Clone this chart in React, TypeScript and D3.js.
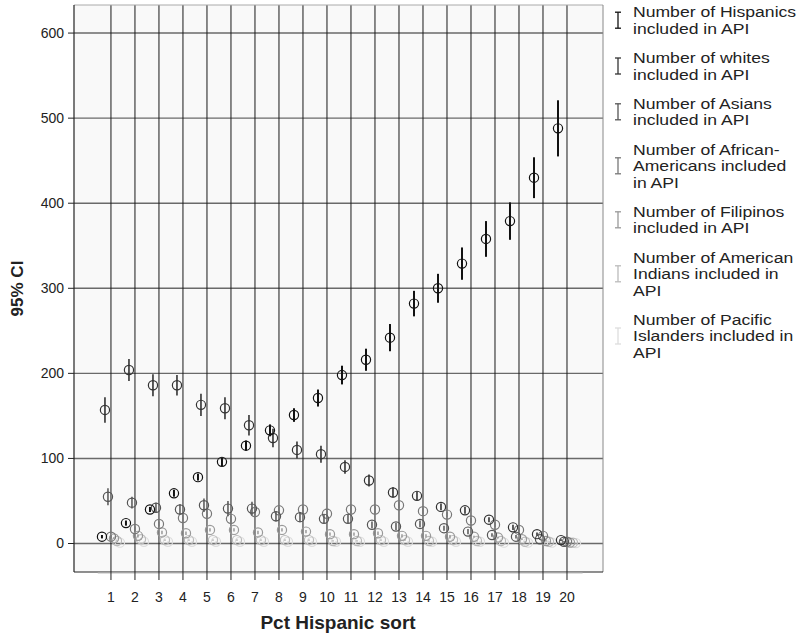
import * as d3 from 'd3';

// categories on the x axis
const categories = [1, 2, 3, 4, 5, 6, 7, 8, 9, 10, 11, 12, 13, 14, 15, 16, 17, 18, 19, 20];

// means and half-widths of the 95% CI for each group
const hispanics = [8, 24, 40, 59, 78, 96, 115, 133, 151, 171, 198, 216, 242, 282, 300, 329, 358, 379, 430, 488];
const hispanicsErr = [2, 3, 3, 4, 4, 5, 6, 7, 8, 10, 11, 13, 16, 15, 17, 19, 21, 22, 24, 33];
const whites = [157, 204, 186, 186, 163, 159, 139, 124, 110, 105, 90, 74, 60, 56, 43, 39, 28, 19, 11, 4];
const whitesErr = [15, 13, 13, 12, 13, 13, 12, 11, 10, 10, 8, 7, 6, 5, 4, 4, 3, 3, 2, 1];
const asians = [55, 48, 42, 40, 45, 41, 41, 32, 31, 29, 29, 22, 20, 23, 18, 14, 10, 8, 5, 2];
const asiansErr = [10, 7, 6, 6, 8, 9, 8, 6, 6, 5, 5, 4, 4, 4, 3, 3, 2, 2, 1, 1];
const africanAmericans = [8, 17, 23, 30, 35, 29, 37, 39, 40, 35, 40, 40, 45, 38, 34, 27, 22, 16, 9, 2];
const africanAmericansErr = [2, 3, 3, 4, 4, 4, 4, 4, 4, 4, 4, 4, 4, 4, 3, 3, 3, 2, 2, 1];
const filipinos = [6, 9, 13, 12, 16, 16, 13, 16, 14, 11, 11, 12, 9, 9, 8, 8, 7, 5, 3, 1];
const filipinosErr = [1, 2, 2, 2, 2, 2, 2, 2, 2, 2, 2, 2, 2, 2, 2, 1, 1, 1, 1, 0.5];
const americanIndians = [3, 5, 4, 4, 4, 4, 4, 4, 4, 3, 3, 4, 4, 3, 4, 3, 3, 2, 2, 1];
const americanIndiansErr = [1, 1, 1, 1, 1, 1, 1, 1, 1, 1, 1, 1, 1, 1, 1, 1, 1, 1, 0.5, 0.5];
const pacificIslanders = [1, 2, 2, 2, 2, 2, 2, 2, 2, 2, 2, 2, 2, 2, 2, 2, 1, 1, 1, 0.5];
const pacificIslandersErr = [0.5, 0.5, 0.5, 0.5, 0.5, 0.5, 0.5, 0.5, 0.5, 0.5, 0.5, 0.5, 0.5, 0.5, 0.5, 0.5, 0.5, 0.5, 0.5, 0.5];

const yTicks = [0, 100, 200, 300, 400, 500, 600];

const series = [
  { label: ['Number of Hispanics', 'included in API'], values: hispanics, err: hispanicsErr, color: '#111', width: 2 },
  { label: ['Number of whites', 'included in API'], values: whites, err: whitesErr, color: '#333', width: 1.6 },
  { label: ['Number of Asians', 'included in API'], values: asians, err: asiansErr, color: '#555', width: 1.5 },
  { label: ['Number of African-', 'Americans included', 'in API'], values: africanAmericans, err: africanAmericansErr, color: '#777', width: 1.5 },
  { label: ['Number of Filipinos', 'included in API'], values: filipinos, err: filipinosErr, color: '#999', width: 1.5 },
  { label: ['Number of American', 'Indians included in', 'API'], values: americanIndians, err: americanIndiansErr, color: '#bbb', width: 1.5 },
  { label: ['Number of Pacific', 'Islanders included in', 'API'], values: pacificIslanders, err: pacificIslandersErr, color: '#ddd', width: 1.5 },
];

const W = 803;
const H = 642;
const plot = { left: 74, right: 603, top: 5, bottom: 572 };
const font = '"Liberation Sans", Arial, Helvetica, sans-serif';

export default function App() {
  const x = d3.scaleLinear().domain([-0.54, 21.5]).range([plot.left, plot.right]);
  const y = d3.scaleLinear().domain([-33.5, 633]).range([plot.bottom, plot.top]);
  const offset = (j: number) => (j - 3) * 3;

  // legend layout
  const lineH = 16.4;
  let cursor = 12;
  const legendItems = series.map(s => {
    const top = cursor;
    cursor += s.label.length * lineH + 13;
    return { ...s, top };
  });

  return (
    <svg width={W} height={H} style={{ position: 'absolute', left: 0, top: 0, fontFamily: font }}>
      <rect x={0} y={0} width={W} height={H} fill="#fff" />
      <rect x={plot.left} y={plot.top} width={plot.right - plot.left} height={plot.bottom - plot.top} fill="#f9f9f9" />

      {/* horizontal grid */}
      {yTicks.map(t => (
        <line key={'h' + t} x1={plot.left} x2={plot.right} y1={y(t)} y2={y(t)} stroke="#6a6a6a" strokeWidth={1.4} />
      ))}
      {/* vertical grid */}
      {categories.map(c => (
        <line key={'v' + c} x1={x(c)} x2={x(c)} y1={plot.top} y2={plot.bottom} stroke="#1a1a1a" strokeWidth={1} />
      ))}

      {/* frame */}
      <line x1={plot.left} x2={plot.right} y1={plot.top} y2={plot.top} stroke="#aaa" strokeWidth={1} />
      <line x1={plot.right} x2={plot.right} y1={plot.top} y2={plot.bottom} stroke="#888" strokeWidth={1} />
      <line x1={plot.left} x2={plot.left} y1={plot.top} y2={plot.bottom} stroke="#222" strokeWidth={1.2} />
      <line x1={plot.left} x2={plot.right} y1={plot.bottom} y2={plot.bottom} stroke="#222" strokeWidth={1.2} />
      <line x1={x(0.45)} x2={x(20.65)} y1={plot.bottom + 1} y2={plot.bottom + 1} stroke="#bbb" strokeWidth={1} />

      {/* y axis */}
      {yTicks.map(t => (
        <g key={'yt' + t}>
          <line x1={plot.left - 6} x2={plot.left} y1={y(t)} y2={y(t)} stroke="#222" />
          <text x={plot.left - 10} y={y(t)} dy="0.35em" textAnchor="end" fontSize={14} fill="#222">{t}</text>
        </g>
      ))}
      <text transform={`translate(23,${(plot.top + plot.bottom) / 2}) rotate(-90)`} textAnchor="middle" fontSize={17} fontWeight="bold" fill="#222">95% CI</text>

      {/* x axis */}
      {categories.map(c => (
        <g key={'xt' + c}>
          <line x1={x(c)} x2={x(c)} y1={plot.bottom} y2={plot.bottom + 8} stroke="#222" />
          <text x={x(c)} y={602} textAnchor="middle" fontSize={14} fill="#222">{c}</text>
        </g>
      ))}
      <text x={338} y={629} textAnchor="middle" fontSize={19} fontWeight="bold" fill="#222">Pct Hispanic sort</text>

      {/* error bars and means, lightest drawn first */}
      {series.slice().reverse().map((s, ri) => {
        const j = series.length - 1 - ri;
        return (
          <g key={'s' + j}>
            {s.values.map((v, i) => {
              const cx = x(categories[i]) + offset(j);
              return (
                <g key={i}>
                  <line x1={cx} x2={cx} y1={y(v + s.err[i])} y2={y(v - s.err[i])} stroke={s.color} strokeWidth={s.width} />
                  <circle cx={cx} cy={y(v)} r={4.6} fill="none" stroke={s.color} strokeWidth={1.2} />
                </g>
              );
            })}
          </g>
        );
      })}

      {/* legend */}
      {legendItems.map((s, k) => {
        const mid = s.top + ((s.label.length - 1) * lineH) / 2;
        const sx = 618;
        return (
          <g key={'lg' + k}>
            <line x1={sx} x2={sx} y1={mid - 8} y2={mid + 8} stroke={s.color} strokeWidth={1.3} />
            <line x1={sx - 3} x2={sx + 3} y1={mid - 8} y2={mid - 8} stroke={s.color} strokeWidth={1.3} />
            <line x1={sx - 3} x2={sx + 3} y1={mid + 8} y2={mid + 8} stroke={s.color} strokeWidth={1.3} />
            {s.label.map((t, li) => (
              <text key={li} transform={`translate(633,${s.top + li * lineH}) scale(1.15,1)`} dy="0.35em" fontSize={15.3} fill="#222">{t}</text>
            ))}
          </g>
        );
      })}
    </svg>
  );
}
